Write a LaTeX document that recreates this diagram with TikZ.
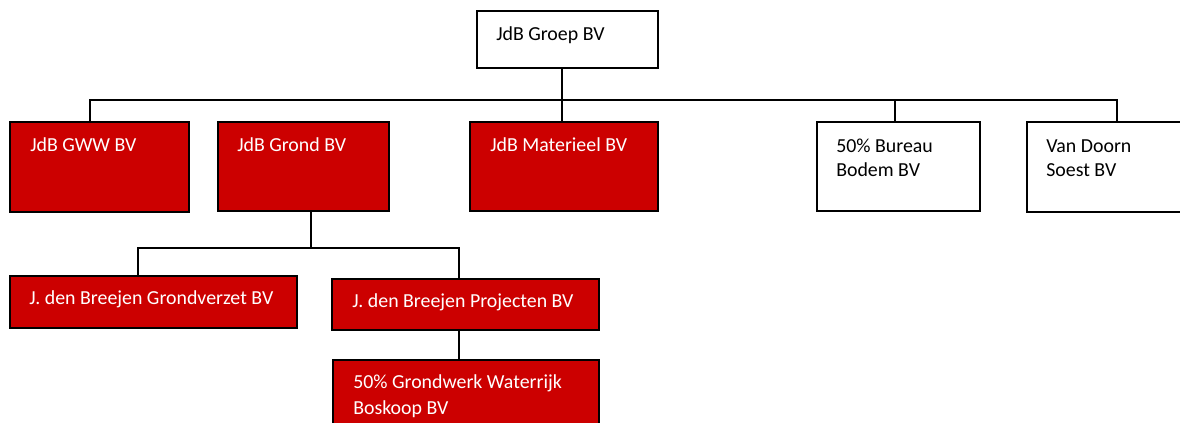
\documentclass[tikz,border=0pt]{standalone}
\usepackage{fontspec}
\setmainfont{Carlito}
\definecolor{jdbred}{RGB}{204,0,0}
\begin{document}
\begin{tikzpicture}[x=0.75pt,y=-0.75pt,
  box/.style={draw=black,line width=1.6pt,anchor=north west,inner sep=0pt,outer sep=0pt},
  redbox/.style={box,fill=jdbred},
  whitebox/.style={box,fill=white},
  wtxt/.style={anchor=base west,inner sep=0pt,font=\fontsize{14.9pt}{18pt}\selectfont,text=white,align=left},
  btxt/.style={wtxt,text=black},
  conn/.style={draw=black,line width=1.5pt}]
\useasboundingbox (0,0) rectangle (1180,423);
\clip (0,0) rectangle (1180,423);
% boxes
\node[whitebox,minimum width=181*0.75pt,minimum height=57*0.75pt] (groep) at (477,11) {};
\node[redbox,minimum width=179*0.75pt,minimum height=90*0.75pt] (gww) at (10,122) {};
\node[redbox,minimum width=171*0.75pt,minimum height=89*0.75pt] (grond) at (218,122) {};
\node[redbox,minimum width=188*0.75pt,minimum height=89*0.75pt] (mat) at (470,122) {};
\node[whitebox,minimum width=163*0.75pt,minimum height=89*0.75pt] (bureau) at (817,122) {};
\node[whitebox,minimum width=170*0.75pt,minimum height=90*0.75pt] (doorn) at (1027,122) {};
\node[redbox,minimum width=287*0.75pt,minimum height=52*0.75pt] (gv) at (10,276) {};
\node[redbox,minimum width=267*0.75pt,minimum height=51*0.75pt] (proj) at (332,279) {};
\node[redbox,minimum width=266*0.75pt,minimum height=80*0.75pt] (wr) at (333,360) {};
% texts
\node[btxt] (tgroep) at ([shift={(19,30)}]groep.north west) {JdB Groep BV};
\node[wtxt] (tgww) at ([shift={(20,30)}]gww.north west) {JdB GWW BV};
\node[wtxt] (tgrond) at ([shift={(19,30)}]grond.north west) {JdB Grond BV};
\node[wtxt] (tmat) at ([shift={(20,30)}]mat.north west) {JdB Materieel BV};
\node[btxt] (tbur1) at ([shift={(19,31)}]bureau.north west) {50\% Bureau};
\node[btxt] (tbur2) at ([shift={(19,55)}]bureau.north west) {Bodem BV};
\node[btxt] (tdoo1) at ([shift={(19,31)}]doorn.north west) {Van Doorn};
\node[btxt] (tdoo2) at ([shift={(19,55)}]doorn.north west) {Soest BV};
\node[wtxt] (tgv) at ([shift={(19,29)}]gv.north west) {J. den Breejen Grondverzet BV};
\node[wtxt] (tproj) at ([shift={(20,29)}]proj.north west) {J. den Breejen Projecten BV};
\node[wtxt] (twr1) at ([shift={(20,28)}]wr.north west) {50\% Grondwerk Waterrijk};
\node[wtxt] (twr2) at ([shift={(20,54)}]wr.north west) {Boskoop BV};
% connectors
\coordinate (bus) at (562,100);
\coordinate (bus2) at (311,248);
\draw[conn] (groep.south -| bus) -- (bus);
\draw[conn] (gww.north -| 90,0) |- (bus) -| (doorn.north -| 1117,0);
\draw[conn] (grond.north -| 311,0) -- (grond.north -| 311,100);
\draw[conn] (bus) -- (mat.north -| 562,0);
\draw[conn] (bureau.north -| 895,0) -- (895,100);
\draw[conn] (grond.south -| 311,0) -- (bus2);
\draw[conn] (gv.north -| 138,0) |- (bus2) -| (proj.north -| 459,0);
\draw[conn] (proj.south -| 459,0) -- (wr.north -| 459,0);
\end{tikzpicture}
\end{document}
